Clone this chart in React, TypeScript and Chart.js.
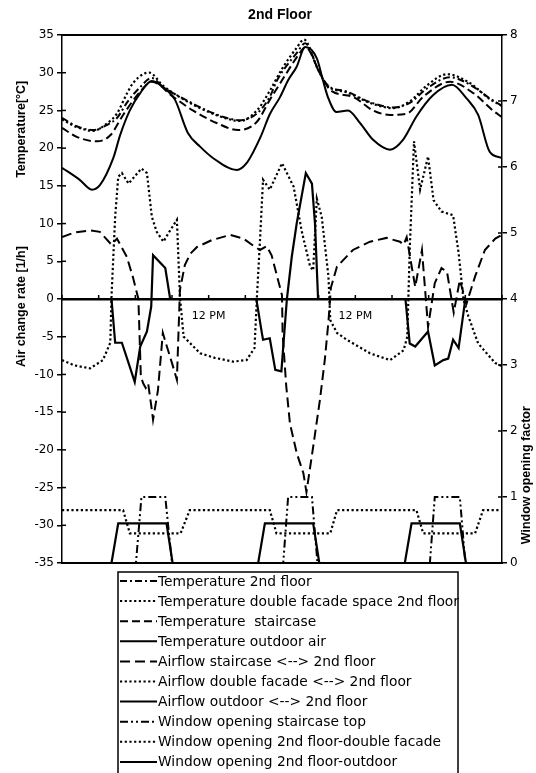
import React, { useEffect, useRef } from 'react';
import { Chart, registerables } from 'chart.js';

Chart.register(...registerables);

// ---------- data (x = hours from start, 3 days) ----------
const xTickLabels: Record<number, string> = { 24: '12 PM', 48: '12 PM' };

const seriesNames = [
  'Temperature 2nd floor',
  'Temperature double facade space 2nd floor',
  'Temperature  staircase',
  'Temperature outdoor air',
  'Airflow staircase <--> 2nd floor',
  'Airflow double facade <--> 2nd floor',
  'Airflow outdoor <--> 2nd floor',
  'Window opening staircase top',
  'Window opening 2nd floor-double facade',
  'Window opening 2nd floor-outdoor',
];

const temp2ndFloor: [number, number][] = [
  [0, 24.0], [2.4, 22.9], [5.1, 22.4], [7.4, 23.1], [9, 24], [10.6, 26], [12.8, 28.1], [14.7, 29.3],
  [16.5, 28.1], [19.8, 26.6], [23.7, 25], [27, 24], [29.1, 23.7], [31.9, 24.6], [34, 26.8], [35.2, 29],
  [38.4, 32.6], [39.8, 33.9], [41.9, 30.4], [43.4, 28.4], [46.6, 27.5], [50.4, 26.1], [54.2, 25.4],
  [56.9, 26], [59.7, 27.9], [63.5, 29.4], [66.8, 28.4], [70, 26.6], [72, 25.6],
];

const tempDoubleFacade: [number, number][] = [
  [0, 23.8], [2.4, 22.8], [5.1, 22.3], [7.4, 23.3], [9, 24.6], [10.6, 27.2], [11.6, 28.6], [13.5, 29.9],
  [14.3, 30.0], [16.5, 28.3], [19.8, 26.5], [23.7, 24.9], [27, 23.9], [29.1, 23.6], [31.9, 25], [34, 27.6],
  [36, 30.5], [38.4, 33.3], [39.6, 34.4], [41.9, 30.4], [43.4, 28.3], [46.6, 27.4], [50.4, 26],
  [54.2, 25.3], [56.9, 26.2], [59.7, 28.3], [63, 29.8], [66.8, 28.6], [70, 26.5], [72, 25.6],
];

const tempStaircase: [number, number][] = [
  [0, 22.7], [2.4, 21.5], [5.7, 20.9], [7.9, 21.7], [10, 24.4], [12.8, 27.5], [14.7, 28.8], [18.2, 26.8],
  [21.4, 25], [25.4, 23.3], [28.8, 22.4], [31.9, 23.5], [34, 26.4], [35.7, 28.6], [38.9, 32.6],
  [39.8, 33.4], [42.2, 30], [43.9, 27.7], [47.6, 26.8], [50.9, 25], [53.7, 24.4], [56.5, 24.6],
  [59.1, 26.8], [63.5, 28.8], [67.3, 27.3], [70.5, 25], [72, 24.1],
];

const tempOutdoor: [number, number][] = [
  [0, 17.4], [2.9, 15.8], [4.9, 14.5], [6.2, 15.1], [8.4, 18.7], [9.5, 21.7], [11.1, 25], [12.8, 27.3],
  [14.7, 28.9], [17.1, 27.7], [18.5, 26.4], [20.6, 22], [22.6, 20.2], [24.7, 18.7], [28.6, 17.1],
  [30.2, 18.0], [32.5, 21.5], [34, 24.5], [35.7, 26.8], [37, 29], [38.4, 30.8], [39.8, 33.4], [41.7, 31.9],
  [42.7, 29], [43.5, 26.8], [44.9, 24.8], [46.8, 25], [48.8, 23.3], [50.9, 21.1], [53.7, 19.8],
  [55.8, 21.1], [58, 24.2], [60.7, 27], [63.8, 28.4], [66.2, 26.6], [68.1, 24.4], [70, 19.5], [72, 18.7],
];

const airStaircase: [number, number][] = [
  [0, 8.2], [2, 8.8], [4.6, 9.1], [6.2, 8.9], [8.1, 7.2], [9, 8.0], [10.6, 5.6], [11.6, 2.9], [12.5, 0],
  [12.7, -5], [12.9, -10.3], [13.3, -11.2], [13.7, -11.8], [14.1, -11.2], [14.7, -14.7], [14.9, -16],
  [15.7, -12.1], [16.5, -4.5], [17.2, -6.4], [18, -8.5], [18.8, -10.7], [19.3, 1.2], [20.1, 4.5],
  [21, 6], [22.1, 6.9], [24.5, 7.8], [27.5, 8.5], [29.7, 8.0], [31.6, 6.9], [32.4, 6.5], [33.5, 7.0],
  [34.3, 5.8], [36, 0.5], [36.1, -4.6], [36.7, -11.6], [37.3, -16.5], [38.4, -20.4], [39.5, -23.1],
  [40, -25.6], [41.1, -19.6], [42.2, -13.4], [43, -8.1], [43.6, -3], [44, 1.5], [45, 4.3], [47.6, 6.5],
  [50.4, 7.6], [53.1, 8.1], [55.3, 7.6], [55.9, 7.2], [56.4, 8.2], [57.8, 1.6], [58.9, 6.5],
  [59.9, -3.7], [61, 2.1], [62.1, 4.1], [63, 3.6], [64.1, -1.8], [65.1, 2.5], [66.2, -0.6], [67.6, 3.0],
  [69.2, 6.5], [70.9, 8.0], [72, 8.5],
];

const airDoubleFacade: [number, number][] = [
  [0, -8.1], [2, -8.8], [4.6, -9.2], [6.7, -8.1], [7.9, -5.8], [8.1, 0.3], [8.7, 10.9], [9.2, 16.2],
  [9.8, 16.7], [10.9, 15.3], [13, 17.3], [13.9, 16.7], [14.7, 10.9], [15.5, 8.9], [16.6, 7.6],
  [17.4, 8.7], [18.8, 10.5], [19, 6.5], [19.3, 0.3], [19.9, -5], [20.9, -5.8], [22.6, -7.2], [25, -7.8],
  [28, -8.3], [30.2, -8.1], [31.5, -6.5], [31.9, 0.3], [32.4, 7.8], [32.9, 15.8], [34, 14.5], [36, 18.0],
  [37.9, 14.9], [39.2, 9.1], [40.6, 4.3], [41.1, 3.8], [41.7, 13.3], [42.5, 10.9], [43.6, 3.0],
  [43.9, -2.8], [45, -4.5], [46.6, -5.4], [50.4, -7.2], [53.7, -8.1], [55.9, -6.8], [56.5, -5],
  [56.9, 6.5], [57.6, 20.9], [58.6, 14.5], [59.9, 18.9], [60.8, 13.1], [62.1, 11.6], [64, 11.1],
  [64.9, 6.1], [65.7, -0.1], [66.5, -2.3], [68.1, -5.9], [70.9, -8.5], [72, -8.9],
];

const airOutdoor: [number, number][] = [
  [0, 0], [8.1, 0], [8.7, -5.8], [9.8, -5.8], [11.7, -10.5], [11.9, -11], [12.8, -6.3], [13.9, -4.3],
  [14.6, -1], [14.9, 5.8], [16.9, 4.1], [17.7, 0], [31.8, 0], [32.7, -4.5], [32.9, -5.4], [34, -5.2],
  [34.9, -9.4], [35.9, -9.6], [36.8, 0], [37.6, 5.6], [38.4, 10], [39.9, 16.7], [40.9, 15.3],
  [41.4, 10], [41.9, 0], [56.2, 0], [56.9, -5.9], [57.8, -6.3], [59.9, -4.3], [61, -8.8], [62.4, -8.1],
  [63.2, -7.9], [64, -5.4], [64.9, -6.5], [66, 0], [72, 0],
];

const winStaircaseTop: [number, number][] = [
  [0, 0], [12.1, 0], [13, 1], [16.9, 1], [18, 0], [36.2, 0], [37, 1], [40.9, 1], [41.8, 0],
  [60.2, 0], [61, 1], [65.1, 1], [66, 0], [72, 0],
];

const winDoubleFacade: [number, number][] = [
  [0, 0.8], [10, 0.8], [11.1, 0.45], [19.4, 0.45], [20.9, 0.8], [34, 0.8], [35.1, 0.45], [43.9, 0.45],
  [45, 0.8], [58, 0.8], [59.1, 0.45], [67.6, 0.45], [68.9, 0.8], [72, 0.8],
];

const winOutdoor: [number, number][] = [
  [0, 0], [8.1, 0], [9.2, 0.6], [17.1, 0.6], [18.1, 0], [32.1, 0], [33.2, 0.6], [41.1, 0.6], [42.1, 0],
  [56.1, 0], [57.2, 0.6], [65.1, 0.6], [66.1, 0], [72, 0],
];

const seriesData = [
  temp2ndFloor, tempDoubleFacade, tempStaircase, tempOutdoor,
  airStaircase, airDoubleFacade, airOutdoor,
  winStaircaseTop, winDoubleFacade, winOutdoor,
];

// ---------- styles ----------
const DASH_DOT = [7, 3, 2, 3];
const DOT = [2.2, 2.5];
const DASH = [8, 4];
const DASH_LONG = [10, 5];
const DASH_DOT_DOT = [8, 3, 2, 3, 2, 3];

const seriesStyles = [
  { dash: DASH_DOT, axis: 'y', smooth: true, width: 2 },
  { dash: DOT, axis: 'y', smooth: true, width: 2.2 },
  { dash: DASH, axis: 'y', smooth: true, width: 2 },
  { dash: [], axis: 'y', smooth: true, width: 2 },
  { dash: DASH_LONG, axis: 'y', smooth: false, width: 2 },
  { dash: DOT, axis: 'y', smooth: false, width: 2.2 },
  { dash: [], axis: 'y', smooth: false, width: 2.2 },
  { dash: DASH_DOT_DOT, axis: 'y2', smooth: false, width: 2 },
  { dash: DOT, axis: 'y2', smooth: false, width: 2.2 },
  { dash: [], axis: 'y2', smooth: false, width: 2.2 },
];

const decorPlugin = {
  id: 'decor',
  beforeDatasetsDraw(chart: any) {
    const { ctx, chartArea, scales } = chart;
    const { left, right, top, bottom } = chartArea;
    ctx.save();
    ctx.strokeStyle = '#000';
    ctx.lineWidth = 2;
    ctx.beginPath();
    ctx.moveTo(left - 1, top);
    ctx.lineTo(right + 1, top);
    ctx.stroke();
    ctx.beginPath();
    ctx.moveTo(left - 1, bottom);
    ctx.lineTo(right + 1, bottom);
    ctx.stroke();
    ctx.lineWidth = 1.5;
    scales.y.ticks.forEach((t: any) => {
      const py = scales.y.getPixelForValue(t.value);
      ctx.beginPath();
      ctx.moveTo(left, py);
      ctx.lineTo(left + 4, py);
      ctx.stroke();
    });
    scales.y2.ticks.forEach((t: any) => {
      const py = scales.y2.getPixelForValue(t.value);
      ctx.beginPath();
      ctx.moveTo(right - 4, py);
      ctx.lineTo(right, py);
      ctx.stroke();
    });
    const y0 = scales.y.getPixelForValue(0);
    scales.x.ticks.forEach((t: any) => {
      const px = scales.x.getPixelForValue(t.value);
      ctx.beginPath();
      ctx.moveTo(px, y0 - 4);
      ctx.lineTo(px, y0 + 1);
      ctx.stroke();
    });
    ctx.restore();
  },
  afterDraw(chart: any) {
    const { ctx, chartArea, scales } = chart;
    const { left, right } = chartArea;
    ctx.save();
    ctx.fillStyle = '#000';
    // title
    ctx.font = 'bold 14px "Liberation Sans", Arial, sans-serif';
    ctx.textAlign = 'center';
    ctx.textBaseline = 'middle';
    ctx.fillText('2nd Floor', (left + right) / 2 - 2, 15);
    // axis titles
    ctx.font = 'bold 12.5px "Liberation Sans", Arial, sans-serif';
    const drawRot = (text: string, x: number, y: number) => {
      ctx.save();
      ctx.translate(x, y);
      ctx.rotate(-Math.PI / 2);
      ctx.fillText(text, 0, 0);
      ctx.restore();
    };
    drawRot('Temperature[°C]', 22, scales.y.getPixelForValue(22.5));
    drawRot('Air change rate [1/h]', 22, scales.y.getPixelForValue(-1));
    drawRot('Window opening factor', 527, scales.y2.getPixelForValue(1.33));

    // legend
    const boxL = 118, boxT = 572, boxR = 458;
    ctx.lineWidth = 1.5;
    ctx.strokeStyle = '#000';
    ctx.strokeRect(boxL, boxT, boxR - boxL, 260);
    ctx.font = '13.8px "DejaVu Sans", sans-serif';
    ctx.textAlign = 'left';
    chart.data.datasets.forEach((ds: any, i: number) => {
      const cy = 581 + i * 20.1;
      ctx.save();
      ctx.lineWidth = 2;
      ctx.setLineDash(ds.borderDash || []);
      ctx.beginPath();
      ctx.moveTo(120, cy);
      ctx.lineTo(157, cy);
      ctx.stroke();
      ctx.restore();
      ctx.fillText(ds.label, 158, cy + 1);
    });
    ctx.restore();
  },
};

export default function App() {
  const canvasRef = useRef<HTMLCanvasElement | null>(null);

  useEffect(() => {
    if (!canvasRef.current) return;
    const datasets = seriesData.map((arr, i) => {
      const st = seriesStyles[i];
      return {
        label: seriesNames[i],
        data: arr.map(([x, y]) => ({ x, y })),
        yAxisID: st.axis,
        borderColor: '#000',
        backgroundColor: '#000',
        borderWidth: st.width,
        borderDash: st.dash,
        pointRadius: 0,
        fill: false,
        cubicInterpolationMode: st.smooth ? 'monotone' : 'default',
        tension: 0,
      };
    });

    const tickFont = { family: '"DejaVu Sans", sans-serif', size: 12 };
    const chart = new Chart(canvasRef.current, {
      type: 'line',
      data: { datasets } as any,
      plugins: [decorPlugin],
      options: {
        responsive: false,
        animation: false,
        devicePixelRatio: 1,
        layout: { padding: { top: 35, bottom: 210, left: 0, right: 0 } },
        plugins: {
          legend: { display: false },
          tooltip: { enabled: false },
          title: { display: false },
        },
        scales: {
          x: {
            type: 'linear',
            min: 0,
            max: 72,
            position: { y: 0 } as any,
            ticks: {
              stepSize: 6,
              autoSkip: false,
              maxRotation: 0,
              padding: 11,
              color: '#000',
              font: { family: '"DejaVu Sans", sans-serif', size: 11 },
              callback: (v: any) => xTickLabels[Number(v)] ?? '',
            },
            grid: { display: false, drawTicks: false },
            border: { display: true, color: '#000', width: 2.5 },
          },
          y: {
            type: 'linear',
            position: 'left',
            min: -35,
            max: 35,
            ticks: { stepSize: 5, color: '#000', font: tickFont, padding: 3 },
            grid: { drawOnChartArea: false, tickLength: 5, color: '#000', lineWidth: 1.5 },
            border: { display: true, color: '#000', width: 1.5 },
            afterFit: (s: any) => { s.width = 62; },
          },
          y2: {
            type: 'linear',
            position: 'right',
            min: 0,
            max: 8,
            ticks: { stepSize: 1, color: '#000', font: tickFont, padding: 3 },
            grid: { drawOnChartArea: false, tickLength: 5, color: '#000', lineWidth: 1.5 },
            border: { display: true, color: '#000', width: 1.5 },
            afterFit: (s: any) => { s.width = 34; },
          },
        },
      } as any,
    });
    return () => chart.destroy();
  }, []);

  return (
    <div style={{ position: 'absolute', left: 0, top: 0, width: 536, height: 773, background: '#fff' }}>
      <canvas ref={canvasRef} width={536} height={773} />
    </div>
  );
}
